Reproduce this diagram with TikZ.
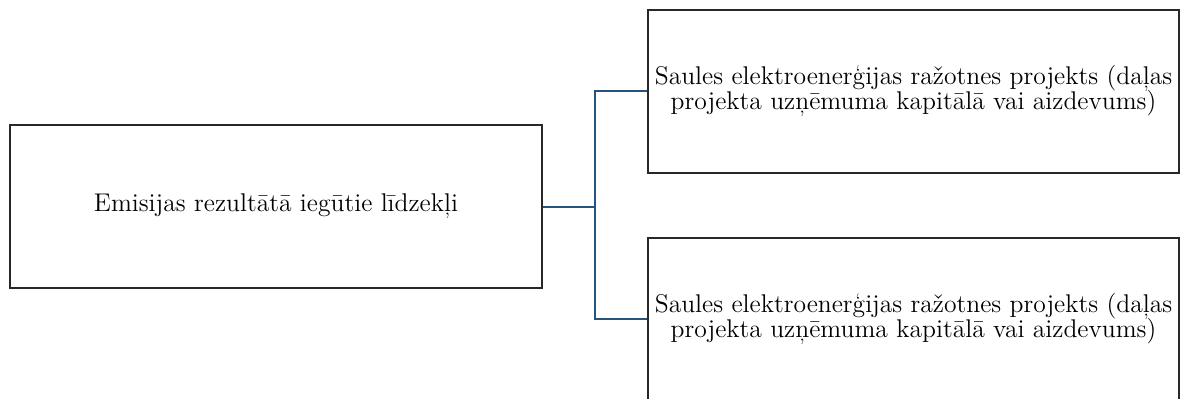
\documentclass[tikz,border=0pt]{standalone}
\usepackage{fontspec}
\definecolor{linkblue}{RGB}{38,84,128}
\definecolor{boxgray}{RGB}{40,40,40}
\newcommand\boxfont{\fontsize{12.8}{12.6}\selectfont\lineskiplimit=-20pt\relax}
\begin{document}
\begin{tikzpicture}[x=0.5pt,y=0.5pt]

      \clip (0,0) rectangle (1181,398);

      \begin{scope}[every node/.style={rectangle,draw=boxgray,line width=1pt,minimum height=81.5pt,inner sep=0pt,align=center,font=\boxfont}]
        \node[minimum width=266pt]   (1) at (276,191.5) {Emisijas rezultātā iegūtie līdzekļi};
        \node[minimum width=265.5pt] (2) at (913.5,307) {Saules elektroenerģijas ražotnes projekts (daļas\\projekta uzņēmuma kapitālā vai aizdevums)};
        \node[minimum width=265.5pt] (3) at (913.5,79)  {Saules elektroenerģijas ražotnes projekts (daļas\\projekta uzņēmuma kapitālā vai aizdevums)};
      \end{scope}

      \coordinate (4) at (595,191.5);

      \begin{scope}[every edge/.style={draw=linkblue,line width=1pt},vh/.style={to path={|- (\tikztotarget)}}]
        \path (1) edge (4);
        \path (4) edge[vh] (2);
        \path (4) edge[vh] (3);
      \end{scope}

    \end{tikzpicture}
\end{document}
